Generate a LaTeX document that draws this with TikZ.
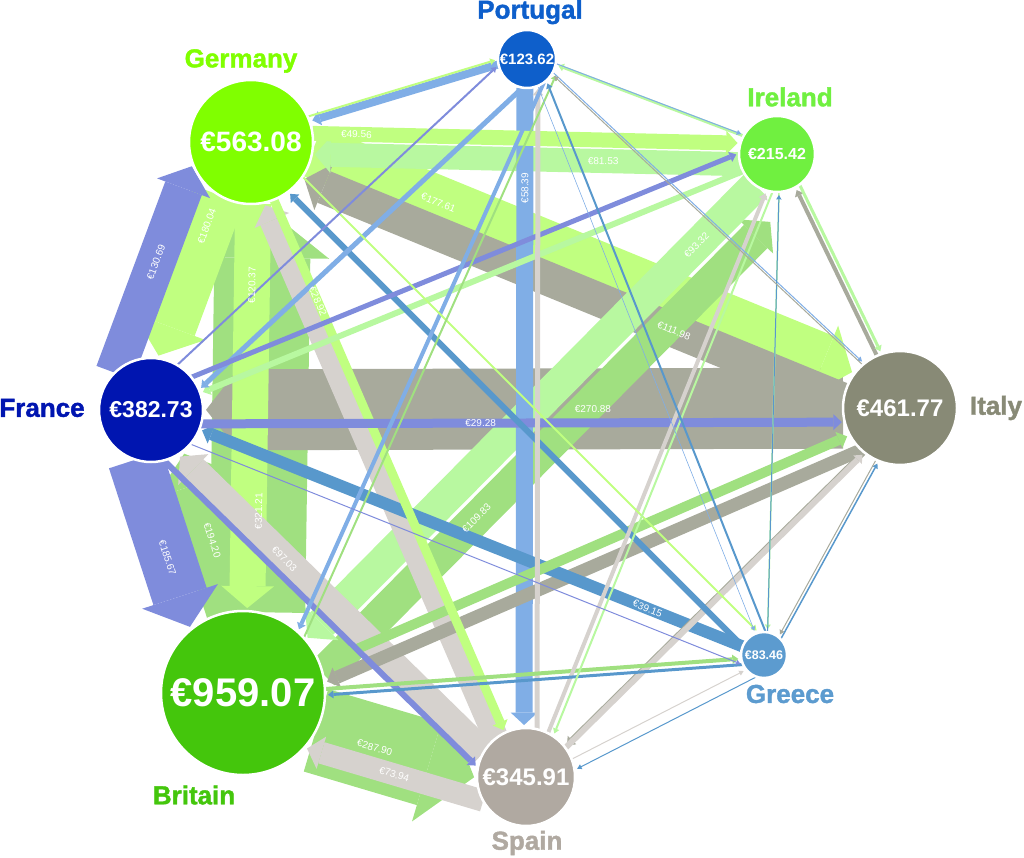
\documentclass[tikz,border=0pt]{standalone}
\usepackage{fontspec}
\setmainfont{Liberation Sans}
\newfontfamily\heavyfont{Liberation Sans}[FakeBold=1.5]
\usetikzlibrary{calc,arrows.meta}

\pgfdeclarelayer{flows}
\pgfsetlayers{flows,main}

\definecolor{cPo}{HTML}{0E5FCB}
\definecolor{cGe}{HTML}{80FF00}
\definecolor{cIr}{HTML}{70F040}
\definecolor{cFr}{HTML}{0015B0}
\definecolor{cIt}{HTML}{888A76}
\definecolor{cBr}{HTML}{44C60C}
\definecolor{cGr}{HTML}{5C9BCF}
\definecolor{cSp}{HTML}{B0A9A1}

\definecolor{fPo}{HTML}{80AEE6}
\definecolor{fGe}{HTML}{C0FF80}
\definecolor{fIr}{HTML}{B8F8A0}
\definecolor{fFr}{HTML}{7F8CDC}
\definecolor{fIt}{HTML}{A8AA9C}
\definecolor{fBr}{HTML}{A0E080}
\definecolor{fGr}{HTML}{5898CC}
\definecolor{fSp}{HTML}{D6D2CE}

\def\rPo{29}\def\rGe{62}\def\rIr{38}\def\rFr{52}
\def\rIt{57}\def\rBr{82}\def\rGr{23}\def\rSp{49}

\newcommand\valfont[1]{\fontsize{#1}{#1}\selectfont\bfseries}

\newcommand\flow[5][0]{%
  \pgfmathsetmacro\shA{sqrt(max(\csname r#2\endcsname^2-(#5)^2,0))}%
  \pgfmathsetmacro\shB{sqrt(max(\csname r#3\endcsname^2-(#5)^2,0))+3+#1}%
  \begin{pgfonlayer}{flows}
  \draw[flow,draw=f#2,line width=#4pt,shorten <=\shA pt,shorten >=\shB pt]
    ($(#2)!#5pt!90:(#3)$) -- ($(#3)!#5pt!-90:(#2)$);
  \end{pgfonlayer}}
\newcommand\flowlab[7][0]{%
  \flow[#1]{#2}{#3}{#4}{#5}%
  \path ($(#2)!#5pt!90:(#3)$) -- node[flowlab,pos=#7] {#6} ($(#3)!#5pt!-90:(#2)$);}

\begin{document}
\begin{tikzpicture}[x=1pt,y=-1pt,
  country/.style={circle,draw=white,line width=2.5pt,text=white,inner sep=0pt},
  cname/.style={font=\heavyfont\bfseries\fontsize{26}{26}\selectfont,inner sep=0pt},
  flow/.style={-{Triangle[length=4pt 0.5,width=4pt 1.35,line width=0pt]}},
  flowlab/.style={text=white,font=\fontsize{10}{10}\selectfont,sloped,inner sep=0pt}]
\useasboundingbox (0,0) rectangle (1024,858);

\node[country,fill=cPo,minimum size=58pt,font=\valfont{15}] (Po) at (527,59) {€123.62};
\node[country,fill=cGe,minimum size=124pt,font=\valfont{28}] (Ge) at (251,142) {€563.08};
\node[country,fill=cIr,minimum size=76pt,font=\valfont{16}] (Ir) at (777,154) {€215.42};
\node[country,fill=cFr,minimum size=104pt,font=\valfont{23}] (Fr) at (151,410) {€382.73};
\node[country,fill=cIt,minimum size=114pt,font=\valfont{24}] (It) at (900,408) {€461.77};
\node[country,fill=cBr,minimum size=164pt,font=\valfont{40}] (Br) at (243,693) {€959.07};
\node[country,fill=cGr,minimum size=46pt,font=\valfont{12.5}] (Gr) at (764,655) {€83.46};
\node[country,fill=cSp,minimum size=98pt,font=\valfont{24}] (Sp) at (526,777) {€345.91};

\node[cname,text=cPo] (PoName) at (530,12) {Portugal};
\node[cname,text=cGe] (GeName) at (241,61) {Germany};
\node[cname,text=cIr] (IrName) at (790,97) {Ireland};
\node[cname,text=cFr] (FrName) at (42,408) {France};
\node[cname,text=cIt] (ItName) at (996,408) {Italy};
\node[cname,text=cBr] (BrName) at (194,795) {Britain};
\node[cname,text=cGr] (GrName) at (790,694) {Greece};
\node[cname,text=cSp] (SpName) at (527,843) {Spain};

\flowlab{Br}{Ge}{96}{-13}{€321.21}{0.33}
\flowlab{Br}{Sp}{86}{-15}{€287.90}{0.48}
\flowlab{It}{Fr}{81}{0}{€270.88}{0.41}
\flowlab{Br}{Fr}{58}{-18}{€194.20}{0.52}
\flowlab{Fr}{Br}{56}{-30}{€185.67}{0.49}
\flowlab{Ge}{Fr}{54}{-12}{€180.04}{0.33}
\flowlab{Ge}{It}{53}{15}{€177.61}{0.28}
\flowlab{Fr}{Ge}{39}{47}{€130.69}{0.49}
\flowlab{Ge}{Br}{36}{3}{€120.37}{0.26}
\flowlab{It}{Ge}{34}{14}{€111.98}{0.34}
\flowlab[50]{Br}{Ir}{33}{-43}{€109.83}{0.38}
\flowlab{Ir}{Br}{32}{7}{€93.32}{0.16}
\flowlab{Sp}{Fr}{29}{13}{€97.03}{0.62}
\flow{Sp}{Ge}{25}{12}
\flowlab{Ir}{Ge}{24}{11}{€81.53}{0.33}
\flowlab{Sp}{Br}{22}{35}{€73.94}{0.43}
\flowlab{Po}{Sp}{17}{-2}{€58.39}{0.18}
\flowlab{Ge}{Ir}{15}{10}{€49.56}{0.2}
\flow{It}{Br}{13}{23}
\flowlab{Gr}{Fr}{12}{0}{€39.15}{0.19}
\flow{Br}{It}{10}{-5}
\flowlab{Ge}{Sp}{9}{-2}{€28.92}{0.25}
\flowlab{Fr}{It}{9}{-14}{€29.28}{0.44}
\flow{Po}{Ge}{8}{-3}
\flow{Ir}{Fr}{6}{3}
\flow{Fr}{Sp}{6}{-27}
\flow{It}{Sp}{6}{6}
\flow{Sp}{It}{6}{-7}
\flow{Gr}{Ge}{6}{9}
\flow{Po}{Fr}{5}{18}
\flow{Fr}{Ir}{5}{15}
\flow{Sp}{Po}{5}{-11}
\flow{Br}{Gr}{4}{-2}
\flow{Po}{Br}{4}{25}
\flow{It}{Ir}{4}{-2}
\flow{Sp}{Ir}{4}{-4}
\flow{Ir}{Po}{3}{-5}
\flow{Ir}{It}{3}{7}
\flow{Gr}{Br}{3}{8}
\flow{Ge}{Po}{2}{8}
\flow{Ge}{Gr}{2}{12}
\flow{Ir}{Sp}{2}{10}
\flow{Ir}{Gr}{1.5}{3}
\flow{Br}{Po}{2}{-33}
\flow{Fr}{Po}{2}{15}
\flow{Gr}{Po}{2}{-10}
\flow{Gr}{It}{1.5}{-7}
\flow{Fr}{Gr}{1}{-17}
\flow{Po}{Ir}{1}{6}
\flow{Po}{It}{1}{8}
\flow{Gr}{Sp}{1}{16}
\flow{Gr}{Ir}{1}{-3}
\flow{It}{Po}{1}{-6}
\flow{It}{Gr}{1}{4}
\flow{Sp}{Gr}{1}{-5}
\flow{Po}{Gr}{0.6}{0}

\end{tikzpicture}
\end{document}
